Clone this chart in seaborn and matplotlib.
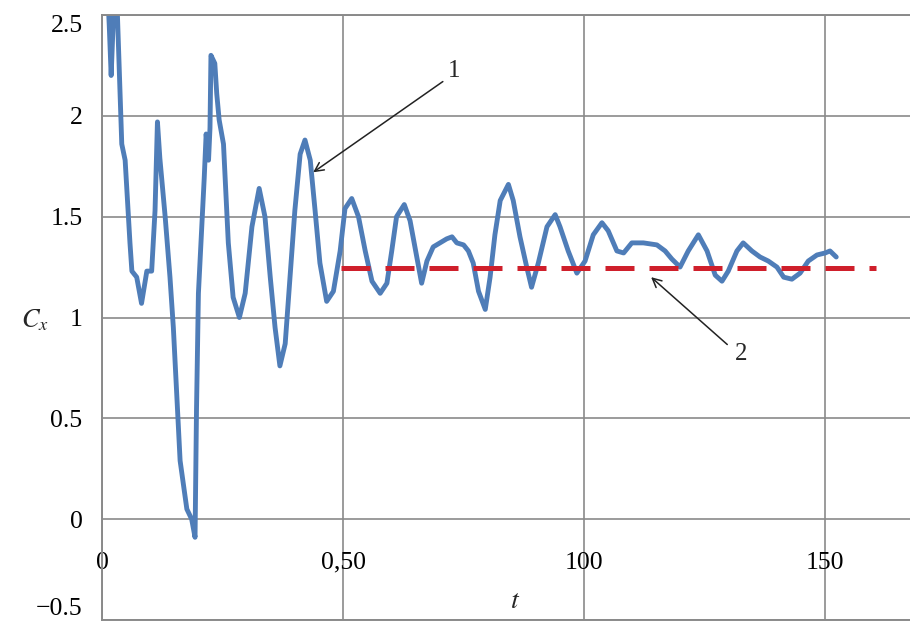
import numpy as np
import pandas as pd
import seaborn as sns
import matplotlib.pyplot as plt

# Drag coefficient history
t = [1.0, 1.5, 1.9, 2.3, 2.7, 3.2, 4.1, 4.8, 5.8, 6.2, 7.2, 8.2, 9.3, 10.3,
     11.0, 11.5, 12.0, 13.1, 14.1, 14.8, 15.5, 16.2, 17.6, 18.6, 19.3, 19.6,
     20.0, 20.7, 21.2, 21.6, 22.1, 22.4, 22.6, 23.4, 23.8, 24.3, 25.2, 26.2,
     27.2, 28.5, 29.7, 31.1, 32.6, 33.8, 34.9, 35.9, 36.9, 38.0, 39.0, 40.0,
     41.1, 42.1, 43.2, 44.2, 45.2, 46.6, 48.0, 49.4, 50.4, 51.8, 53.2, 54.6,
     56.0, 57.7, 59.1, 60.1, 61.1, 62.7, 63.9, 65.3, 66.3, 67.4, 68.7, 70.1,
     71.5, 72.6, 73.6, 75.0, 76.0, 77.0, 78.1, 79.5, 80.5, 81.5, 82.6, 84.3,
     85.3, 86.7, 88.1, 89.1, 90.5, 92.3, 94.0, 95.0, 96.7, 98.5, 100.2, 101.9,
     103.7, 105.0, 106.8, 108.2, 109.9, 112.3, 115.1, 116.8, 118.2, 119.9,
     121.6, 123.7, 125.5, 127.2, 128.6, 129.9, 131.7, 133.0, 134.8, 136.5,
     138.2, 140.0, 141.4, 143.1, 144.8, 146.5, 148.3, 150.0, 151.0, 152.3]
cx = [2.70, 2.45, 2.20, 2.45, 2.65, 2.50, 1.86, 1.78, 1.37, 1.23, 1.20, 1.07,
      1.23, 1.23, 1.53, 1.97, 1.79, 1.50, 1.20, 0.95, 0.62, 0.29, 0.05, 0.00,
      -0.09, 0.54, 1.12, 1.45, 1.69, 1.91, 1.78, 1.94, 2.30, 2.26, 2.11, 1.98,
      1.86, 1.37, 1.10, 1.00, 1.12, 1.45, 1.64, 1.50, 1.20, 0.95, 0.76, 0.87,
      1.20, 1.53, 1.81, 1.88, 1.78, 1.53, 1.27, 1.08, 1.13, 1.33, 1.54, 1.59,
      1.50, 1.33, 1.18, 1.12, 1.17, 1.33, 1.50, 1.56, 1.48, 1.30, 1.17, 1.28,
      1.35, 1.37, 1.39, 1.40, 1.37, 1.36, 1.33, 1.27, 1.13, 1.04, 1.20, 1.41,
      1.58, 1.66, 1.58, 1.40, 1.25, 1.15, 1.27, 1.45, 1.51, 1.45, 1.33, 1.22,
      1.28, 1.41, 1.47, 1.43, 1.33, 1.32, 1.37, 1.37, 1.36, 1.33, 1.29, 1.25,
      1.33, 1.41, 1.33, 1.21, 1.18, 1.23, 1.33, 1.37, 1.33, 1.30, 1.28, 1.25,
      1.20, 1.19, 1.22, 1.28, 1.31, 1.32, 1.33, 1.30]

# steady-state level (line 2)
t_mean = [49.5, 160.5]
cx_mean = [1.243, 1.243]

xticks = [0, 50, 100, 150]
xtick_labels = ['0', '0,50', '100', '150']
yticks = [-0.5, 0, 0.5, 1, 1.5, 2, 2.5]
ytick_labels = ['\u22120.5', '0', '0.5', '1', '1.5', '2', '2.5']

df = pd.DataFrame({'t': t, 'cx': cx})
df_mean = pd.DataFrame({'t': t_mean, 'cx': cx_mean})

sns.set_style('white')
plt.rcParams['font.family'] = ['Liberation Serif', 'DejaVu Serif']
plt.rcParams['mathtext.fontset'] = 'stix'

fig = plt.figure(figsize=(9.1, 6.23), dpi=100)
ax = fig.add_axes([102 / 910, 3 / 623, 808 / 910, 605 / 623])

sns.lineplot(data=df, x='t', y='cx', ax=ax, color='#4f7db8', linewidth=3.5,
             sort=False, estimator=None)
sns.lineplot(data=df_mean, x='t', y='cx', ax=ax, color='#cf1f2b', linewidth=3.6,
             dashes=False, estimator=None)
ax.lines[-1].set_dashes((5.8, 3.0))

ax.set_xlim(0, 167.6)
ax.set_ylim(-0.5, 2.5)

ax.set_xticks(xticks)
ax.set_xticklabels(xtick_labels)
ax.set_yticks(yticks)
ax.set_yticklabels(ytick_labels)
ax.tick_params(axis='x', length=0, pad=-49, labelsize=18.5, colors='black')
ax.tick_params(axis='y', length=0, pad=14, labelsize=18.5, colors='black')
# end labels sit inside the figure like in the original
ylabels = ax.get_yticklabels()
ylabels[0].set_va('bottom')
ylabels[-1].set_va('top')

ax.grid(True, color='#8a8a8a', linewidth=1.2)
ax.set_axisbelow(True)
for side in ['left', 'bottom', 'top']:
    ax.spines[side].set_color('#8a8a8a')
    ax.spines[side].set_linewidth(1.4)
ax.spines['right'].set_visible(False)

ax.set_xlabel('$t$', fontsize=20)
ax.xaxis.set_label_coords(0.511, 0.052)
ax.set_ylabel('$C_x$', fontsize=19, rotation=0, va='center', ha='center')
ax.yaxis.set_label_coords(-0.083, 0.496)

# callouts
ax.text(73.0, 2.22, '1', fontsize=18, ha='center', va='center')
ax.annotate('', xy=(43.8, 1.72), xytext=(70.7, 2.17),
            arrowprops=dict(arrowstyle='->', color='#222222', lw=1.1,
                            mutation_scale=16, shrinkA=0, shrinkB=0))
ax.text(132.6, 0.82, '2', fontsize=18, ha='center', va='center')
ax.annotate('', xy=(113.9, 1.20), xytext=(129.7, 0.866),
            arrowprops=dict(arrowstyle='->', color='#222222', lw=1.1,
                            mutation_scale=16, shrinkA=0, shrinkB=0))

plt.savefig('out.png', dpi=100)
